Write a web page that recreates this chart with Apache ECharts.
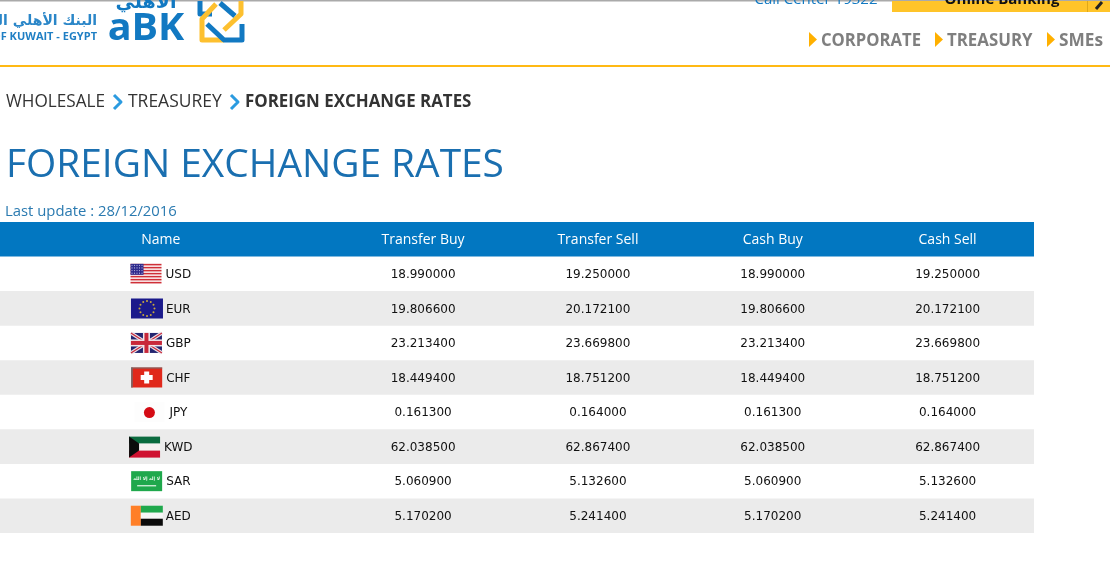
<!DOCTYPE html>
<html>
<head>
<meta charset="utf-8">
<title>Foreign Exchange Rates</title>
<script src="https://cdn.jsdelivr.net/npm/echarts@6/dist/echarts.min.js"></script>
<style>
  html, body { margin: 0; padding: 0; background: #fff; overflow: hidden; }
  #chart { width: 1110px; height: 564px; }
</style>
</head>
<body>
<div id="chart"></div>
<script>
// Table data
const columns = ['Name', 'Transfer Buy', 'Transfer Sell', 'Cash Buy', 'Cash Sell'];
const currencies = ['USD', 'EUR', 'GBP', 'CHF', 'JPY', 'KWD', 'SAR', 'AED'];
const transferBuy = ['18.990000', '19.806600', '23.213400', '18.449400', '0.161300', '62.038500', '5.060900', '5.170200'];
const transferSell = ['19.250000', '20.172100', '23.669800', '18.751200', '0.164000', '62.867400', '5.132600', '5.241400'];
const cashBuy = ['18.990000', '19.806600', '23.213400', '18.449400', '0.161300', '62.038500', '5.060900', '5.170200'];
const cashSell = ['19.250000', '20.172100', '23.669800', '18.751200', '0.164000', '62.867400', '5.132600', '5.241400'];

const HEADER = 'Header';
const rowNames = [HEADER].concat(currencies);
// the Name column is two bands wide, so the axis gets an empty band in front of it
const xCategories = [''].concat(columns);
const valueColumns = [transferBuy, transferSell, cashBuy, cashSell];

const BLUE = '#0277c1';
const HEAD_FONT = '14px "Open Sans"';
const CELL_FONT = '12px "DejaVu Sans"';
const FLAG_W = 31;
const FLAG_GAP = 4;
const TABLE_RIGHT = 1034;
const TEXT_NUDGE = 1;

const measure = document.createElement('canvas').getContext('2d');
function textWidth(text, font) {
    measure.font = font;
    return measure.measureText(text).width;
}

function textEl(text, x, y, font, fill, align, scaleX) {
    return {
        type: 'text',
        x: x,
        y: y,
        scaleX: scaleX || 1,
        silent: true,
        style: {
            text: text, font: font, fill: fill,
            align: align || 'left', textAlign: align || 'left',
            verticalAlign: 'middle', textVerticalAlign: 'middle'
        }
    };
}

function rect(x, y, w, h, fill) {
    return { type: 'rect', shape: { x: x, y: y, width: w, height: h }, style: { fill: fill } };
}

function poly(points, color, width) {
    return {
        type: 'polyline',
        shape: { points: points },
        style: { stroke: color, lineWidth: width, fill: null, lineJoin: 'round' }
    };
}

function dot(x, y, r, fill) {
    return { type: 'circle', shape: { cx: x, cy: y, r: r }, style: { fill: fill } };
}

// Flags, drawn in a 31x20 box
const flags = {
    USD() {
        const out = [rect(0, 0, 31, 20, '#fff')];
        for (let i = 0; i < 7; i++) out.push(rect(0, i * 3, 31, 1.6, '#cf3038'));
        out.push(rect(0, 0, 13, 11, '#2f2a8c'));
        for (let r = 0; r < 4; r++) {
            for (let c = 0; c < 5; c++) out.push(dot(1.5 + c * 2.5, 1.5 + r * 2.6, 0.6, '#b9b9e0'));
        }
        return out;
    },
    EUR() {
        const out = [rect(0, 0, 32, 20, '#1b1a8b')];
        for (let i = 0; i < 12; i++) {
            const a = i * Math.PI / 6;
            out.push(dot(16 + 7.5 * Math.cos(a), 10 + 7.5 * Math.sin(a), 1, '#c9a93c'));
        }
        return out;
    },
    GBP() {
        return [
            rect(0, 0, 31, 20, '#23246f'),
            poly([[0, 0], [31, 20]], '#e8e0e6', 3.5),
            poly([[31, 0], [0, 20]], '#e8e0e6', 3.5),
            poly([[0, 0], [31, 20]], '#c8283a', 1.2),
            poly([[31, 0], [0, 20]], '#c8283a', 1.2),
            rect(12, 0, 7, 20, '#f0e6ea'),
            rect(0, 6.5, 31, 7, '#f0e6ea'),
            rect(13.5, 0, 4, 20, '#c8283a'),
            rect(0, 8, 31, 4, '#c8283a')
        ];
    },
    CHF() {
        return [
            rect(0, 0, 31, 20, '#e0281b'),
            rect(0, 0, 31, 1, '#6e6e6e'),
            rect(0, 0, 1.5, 20, '#6e6e6e'),
            rect(13, 4, 5, 12, '#fff'),
            rect(9.5, 7.5, 12, 5, '#fff')
        ];
    },
    JPY() {
        return [
            rect(0, 0, 30, 20, '#fdfdfd'),
            dot(15, 10.5, 5.5, '#d40b14')
        ];
    },
    KWD() {
        return [
            rect(0, 0, 31, 7, '#0b6b3f'),
            rect(0, 7, 31, 7, '#f6f2f2'),
            rect(0, 14, 31, 7, '#cf1130'),
            { type: 'polygon', shape: { points: [[0, 0], [10, 7], [10, 14], [0, 21]] }, style: { fill: '#0b0b0b' } }
        ];
    },
    SAR() {
        return [
            rect(0, 0, 31, 20, '#1fa84c'),
            textEl('لا إله إلا الله', 15.5, 8, 'bold 4.5px "DejaVu Sans"', '#e2f5e6', 'center'),
            rect(6, 14, 19, 1.2, '#e6f7ea')
        ];
    },
    AED() {
        return [
            rect(0, 0, 10, 20, '#ff7f27'),
            rect(10, 0, 22, 7, '#1fa84c'),
            rect(10, 7, 22, 6, '#f6f6f6'),
            rect(10, 13, 22, 7, '#0a0a0a')
        ];
    }
};

// Data for the series
const bandData = rowNames.map(r => [0, r]);
const nameData = currencies.map(c => ['Name', c]);
const cellData = [];
valueColumns.forEach((values, c) => {
    values.forEach((v, r) => cellData.push([columns[c + 1], currencies[r], v]));
});
const headerData = columns.map(c => [c, HEADER]);

// Row backgrounds
function renderBand(params, api) {
    const i = params.dataIndex;
    const center = api.coord([0, rowNames[i]]);
    const h = api.size([1, 1])[1];
    let fill = null;
    if (i === 0) fill = BLUE;
    else if (i % 2 === 0) fill = '#ebebeb';
    if (!fill) return { type: 'group', children: [] };
    return rect(0, center[1] - h / 2, TABLE_RIGHT, h, fill);
}

// Header labels. Name sits on the line between its two bands.
function renderHeader(params, api) {
    const name = columns[params.dataIndex];
    const p = api.coord([name, HEADER]);
    const w = api.size([1, 1])[0];
    return textEl(name, name === 'Name' ? p[0] - w / 2 : p[0], p[1] + TEXT_NUDGE, HEAD_FONT, '#fff', 'center');
}

function renderCell(params, api) {
    const row = cellData[params.dataIndex];
    const p = api.coord([row[0], row[1]]);
    return textEl(row[2], p[0], p[1] + TEXT_NUDGE, CELL_FONT, '#111', 'center');
}

// Flag and code, centred together like an inline cell
function renderName(params, api) {
    const code = currencies[params.dataIndex];
    const p = api.coord(['Name', code]);
    const cx = p[0] - api.size([1, 1])[0] / 2;
    const w = textWidth(code, CELL_FONT);
    const left = cx - (FLAG_W + FLAG_GAP + w) / 2;
    return {
        type: 'group',
        children: [
            { type: 'group', x: left, y: p[1] - 10, children: flags[code]() },
            textEl(code, left + FLAG_W + FLAG_GAP, p[1] + TEXT_NUDGE, CELL_FONT, '#111', 'left')
        ]
    };
}

// Page furniture around the table
const decor = [
    // top edge
    rect(0, 0, 1110, 1.5, '#aaaaaa'),

    // logo
    textEl('البنك الأهلي الكويتي', 97, 21, 'bold 14px "DejaVu Sans"', '#2a86c8', 'right'),
    textEl('BANK OF KUWAIT - EGYPT', 97, 37, 'bold 11px "Open Sans"', '#1f7fc4', 'right'),
    textEl('الأهلي', 146, 3, 'bold 19px "DejaVu Sans"', '#1279c2', 'center'),
    textEl('aBK', 146, 29, 'bold 38px "Open Sans"', '#1279c2', 'center', 1.04),
    poly([[200, 1], [200, 14], [212, 14]], '#1279c2', 5),
    poly([[216, 4], [202, 19], [202, 40], [224, 40]], '#fdc02f', 5),
    poly([[220, 3], [235, 16]], '#1279c2', 5),
    poly([[241, 1], [241, 14], [224, 30]], '#fdc02f', 5),
    poly([[207, 24], [224, 40], [242, 40], [242, 24]], '#1279c2', 5),

    // top right
    textEl('Call Center 19322', 816, 0, '15px "Open Sans"', '#1279c2', 'center'),
    rect(892, 1, 218, 11, '#ffc429'),
    textEl('Online Banking', 1002, 0, 'bold 15px "Open Sans"', '#111', 'center'),
    rect(1087, 1, 1, 11, '#e0a818'),
    poly([[1096, 9], [1102, 2]], '#222', 3),

    // nav
    { type: 'polygon', shape: { points: [[809, 32], [817, 39.5], [809, 47]] }, style: { fill: '#ffb000' } },
    textEl('CORPORATE', 821, 41, 'bold 18px "Open Sans"', '#7f7f7f', 'left', 0.925),
    { type: 'polygon', shape: { points: [[935, 32], [943, 39.5], [935, 47]] }, style: { fill: '#ffb000' } },
    textEl('TREASURY', 947, 41, 'bold 18px "Open Sans"', '#7f7f7f', 'left', 0.935),
    { type: 'polygon', shape: { points: [[1047, 32], [1055, 39.5], [1047, 47]] }, style: { fill: '#ffb000' } },
    textEl('SMEs', 1059, 41, 'bold 18px "Open Sans"', '#7f7f7f', 'left', 0.96),
    rect(0, 65, 1110, 2, '#ffb914'),

    // breadcrumb
    textEl('WHOLESALE', 6, 102, '18px "Open Sans"', '#333', 'left', 0.953),
    poly([[114, 95], [121, 102], [114, 109]], '#2b9be0', 3),
    textEl('TREASUREY', 128, 102, '18px "Open Sans"', '#333', 'left', 0.97),
    poly([[231, 95], [238, 102], [231, 109]], '#2b9be0', 3),
    textEl('FOREIGN EXCHANGE RATES', 245, 102, 'bold 18px "Open Sans"', '#333', 'left', 0.938),

    // title
    textEl('FOREIGN EXCHANGE RATES', 6, 166, '39px "Open Sans"', '#1a6fb0', 'left', 0.996),
    textEl('Last update : 28/12/2016', 5, 212, '15px "Open Sans"', '#2a7ab0', 'left', 0.99)
];

const chart = echarts.init(document.getElementById('chart'));

function customSeries(data, renderItem, z) {
    return {
        type: 'custom',
        data: data,
        renderItem: renderItem,
        z: z,
        clip: false,
        silent: true,
        encode: { x: 0, y: 1 }
    };
}

chart.setOption({
    animation: false,
    backgroundColor: '#fff',
    // the first band hangs off the left edge of the page
    grid: { left: -14, width: 1049, top: 222, height: 311, outerBoundsMode: 'none' },
    xAxis: { type: 'category', data: xCategories, show: false },
    yAxis: { type: 'category', data: rowNames, inverse: true, show: false },
    tooltip: { show: false },
    graphic: { elements: decor },
    series: [
        customSeries(bandData, renderBand, 1),
        customSeries(headerData, renderHeader, 2),
        customSeries(nameData, renderName, 2),
        customSeries(cellData, renderCell, 2)
    ]
});

// Handle window resize
window.addEventListener('resize', () => chart.resize());
</script>
</body>
</html>
